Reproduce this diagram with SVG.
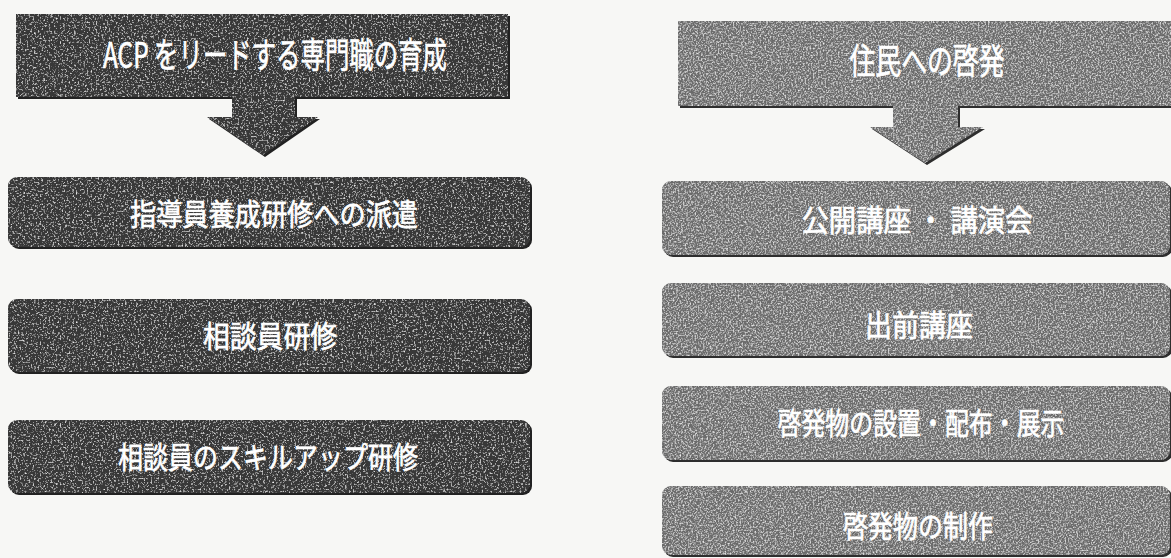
<svg xmlns="http://www.w3.org/2000/svg" width="1171" height="558" viewBox="0 0 1171 558">
<defs>
<filter id="speckL" x="0" y="0" width="100%" height="100%">
<feTurbulence type="fractalNoise" baseFrequency="0.55" numOctaves="2" seed="4" result="t"/>
<feColorMatrix in="t" type="matrix" values="0 0 0 0 1  0 0 0 0 1  0 0 0 0 1  2.4 0 0 0 -1.3" result="dots"/>
<feComposite in="dots" in2="SourceAlpha" operator="in" result="d2"/>
<feMerge><feMergeNode in="SourceGraphic"/><feMergeNode in="d2"/></feMerge>
</filter>
<filter id="speckR" x="0" y="0" width="100%" height="100%">
<feTurbulence type="fractalNoise" baseFrequency="0.6" numOctaves="2" seed="9" result="t"/>
<feColorMatrix in="t" type="matrix" values="0 0 0 0 0.85  0 0 0 0 0.85  0 0 0 0 0.85  2.4 0 0 0 -1.1" result="dots"/>
<feComposite in="dots" in2="SourceAlpha" operator="in" result="d2"/>
<feTurbulence type="fractalNoise" baseFrequency="0.6" numOctaves="2" seed="21" result="t2"/>
<feColorMatrix in="t2" type="matrix" values="0 0 0 0 0.2  0 0 0 0 0.2  0 0 0 0 0.2  2.4 0 0 0 -1.05" result="dark"/>
<feComposite in="dark" in2="SourceAlpha" operator="in" result="d3"/>
<feMerge><feMergeNode in="SourceGraphic"/><feMergeNode in="d3"/><feMergeNode in="d2"/></feMerge>
</filter>
</defs>
<style>
.bg{fill:#f7f7f5}
.dark{fill:#383838}
.mid{fill:#696969}
.shL{fill:#222222}
.shR{fill:#2e2e2e}
.t{font-family:"Noto Sans CJK JP","Noto Sans",sans-serif;fill:#ffffff;stroke:#ffffff;stroke-width:0.7;text-anchor:middle}
.h{font-size:35px}
.b{font-size:30px}
</style>
<rect class="bg" x="0" y="0" width="1171" height="558"/>

<g id="header-left">
<path class="shL" d="M18,16 H510 V99 H297 V119 H320 L265,157 L209,119 H234 V99 H18 Z"/>
<path class="dark" filter="url(#speckL)" d="M16,14 H508 V97 H295 V117 H318 L263,155 L207,117 H232 V97 H16 Z"/>
<text class="t h" x="275" y="68" textLength="344" lengthAdjust="spacingAndGlyphs">ACP をリードする専門職の育成</text>
</g>

<g id="header-right">
<path class="shR" d="M680,23 H1171 V108 H960 V129 H985 L927,165 L872,129 H895 V108 H680 Z"/>
<path class="mid" filter="url(#speckR)" d="M678,21 H1171 V106 H958 V127 H983 L925,163 L870,127 H893 V106 H678 Z"/>
<text class="t h" x="927" y="74" textLength="155" lengthAdjust="spacingAndGlyphs">住民への啓発</text>
</g>

<g id="connectors"></g>

<g id="left-1">
<rect class="shL" x="10" y="179" width="522" height="70" rx="9"/>
<rect class="dark" filter="url(#speckL)" x="8" y="177" width="522" height="70" rx="9"/>
<text class="t b" x="274" y="225" textLength="288" lengthAdjust="spacingAndGlyphs">指導員養成研修への派遣</text>
</g>
<g id="left-2">
<rect class="shL" x="10" y="301" width="522" height="73" rx="9"/>
<rect class="dark" filter="url(#speckL)" x="8" y="299" width="522" height="73" rx="9"/>
<text class="t b" x="270" y="347" textLength="134" lengthAdjust="spacingAndGlyphs">相談員研修</text>
</g>
<g id="left-3">
<rect class="shL" x="10" y="422" width="522" height="73" rx="9"/>
<rect class="dark" filter="url(#speckL)" x="8" y="420" width="522" height="73" rx="9"/>
<text class="t b" x="268" y="468" textLength="300" lengthAdjust="spacingAndGlyphs">相談員のスキルアップ研修</text>
</g>

<g id="right-1">
<rect class="shR" x="664" y="183" width="508" height="74" rx="9"/>
<rect class="mid" filter="url(#speckR)" x="662" y="181" width="508" height="74" rx="9"/>
<text class="t b" x="917" y="231" textLength="231" lengthAdjust="spacingAndGlyphs">公開講座 ・ 講演会</text>
</g>
<g id="right-2">
<rect class="shR" x="664" y="285" width="508" height="73" rx="9"/>
<rect class="mid" filter="url(#speckR)" x="662" y="283" width="508" height="73" rx="9"/>
<text class="t b" x="919" y="336" textLength="108" lengthAdjust="spacingAndGlyphs">出前講座</text>
</g>
<g id="right-3">
<rect class="shR" x="664" y="388" width="508" height="74" rx="9"/>
<rect class="mid" filter="url(#speckR)" x="662" y="386" width="508" height="74" rx="9"/>
<text class="t b" x="921" y="434" textLength="287" lengthAdjust="spacingAndGlyphs">啓発物の設置・配布・展示</text>
</g>
<g id="right-4">
<rect class="shR" x="664" y="488" width="508" height="69" rx="9"/>
<rect class="mid" filter="url(#speckR)" x="662" y="486" width="508" height="69" rx="9"/>
<text class="t b" x="918" y="537" textLength="150" lengthAdjust="spacingAndGlyphs">啓発物の制作</text>
</g>
</svg>
